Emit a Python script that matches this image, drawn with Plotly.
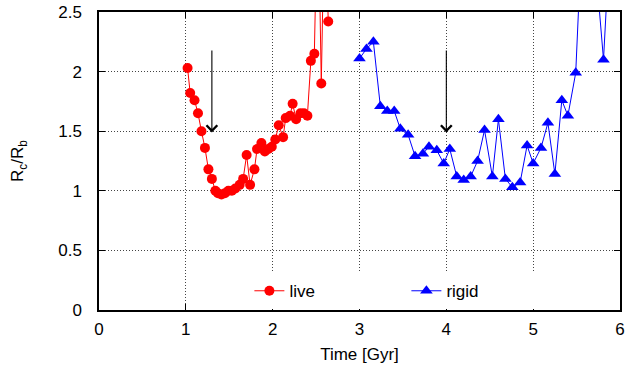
import plotly.graph_objects as go

# ---- data ----
live_time = [1.02, 1.05, 1.10, 1.14, 1.18, 1.22, 1.26, 1.30, 1.34, 1.37, 1.41, 1.45,
             1.49, 1.53, 1.57, 1.62, 1.66, 1.70, 1.74, 1.79, 1.82, 1.87, 1.91, 1.95,
             1.99, 2.03, 2.07, 2.12, 2.15, 2.20, 2.23, 2.27, 2.32, 2.36, 2.40, 2.44,
             2.48, 2.52, 2.56, 2.60, 2.64]
live_ratio = [2.03, 1.82, 1.76, 1.65, 1.50, 1.36, 1.18, 1.10, 1.00, 0.98, 0.97, 0.98,
              1.00, 1.00, 1.02, 1.05, 1.10, 1.30, 1.05, 1.18, 1.35, 1.40, 1.33, 1.35,
              1.37, 1.43, 1.55, 1.45, 1.61, 1.63, 1.73, 1.60, 1.65, 1.65, 1.63, 2.09,
              2.15, 3.60, 1.90, 3.50, 2.42]

rigid_time = [3.00, 3.08, 3.16, 3.24, 3.32, 3.40, 3.47, 3.56, 3.64, 3.73, 3.80, 3.89,
              3.97, 4.04, 4.12, 4.20, 4.28, 4.36, 4.44, 4.53, 4.60, 4.68, 4.76, 4.85,
              4.93, 5.00, 5.09, 5.17, 5.25, 5.33, 5.40, 5.49, 5.57, 5.65, 5.73, 5.81,
              5.89]
rigid_ratio = [2.11, 2.19, 2.25, 1.71, 1.67, 1.67, 1.52, 1.47, 1.29, 1.31, 1.37, 1.34,
               1.23, 1.35, 1.12, 1.09, 1.12, 1.25, 1.51, 1.12, 1.60, 1.10, 1.03, 1.07,
               1.38, 1.23, 1.36, 1.57, 1.14, 1.76, 1.63, 1.99, 3.30, 3.50, 2.80, 2.10,
               3.20]

# arrows marking events: (time, tail value, head value)
arrow_time = [1.30, 4.00]
arrow_tail = [2.19, 2.19]
arrow_head = [1.49, 1.49]

x_ticks = [0, 1, 2, 3, 4, 5, 6]
y_ticks = [0, 0.5, 1, 1.5, 2, 2.5]
y_tick_labels = ["0", "0.5", "1", "1.5", "2", "2.5"]

FONT = "Liberation Sans, Arial, sans-serif"
FS = 17

fig = go.Figure()
fig.add_trace(go.Scatter(
    x=live_time, y=live_ratio, mode="lines+markers", name="live",
    line=dict(color="#ff0000", width=1),
    marker=dict(symbol="circle", size=10, color="#ff0000"),
))
fig.add_trace(go.Scatter(
    x=rigid_time, y=rigid_ratio, mode="lines+markers", name="rigid",
    line=dict(color="#0000ff", width=1),
    marker=dict(symbol="triangle-up", size=11, color="#0000ff"),
))

for t, tail, head in zip(arrow_time, arrow_tail, arrow_head):
    fig.add_annotation(
        x=t, y=head, ax=t, ay=tail, xref="x", yref="y", axref="x", ayref="y",
        showarrow=True, arrowhead=4, arrowsize=1.9, arrowwidth=1.1,
        arrowcolor="black", text="",
    )

axis_common = dict(
    showline=True, linecolor="black", linewidth=1.5, mirror="ticks",
    ticks="inside", ticklen=6, tickwidth=1.2, tickcolor="black",
    showgrid=True, gridcolor="#444444", griddash="1px,2px", gridwidth=1,
    zeroline=False, automargin=False,
    tickfont=dict(family=FONT, size=FS, color="black"),
)

fig.update_xaxes(
    range=[0, 6], tickvals=x_ticks, ticklabelstandoff=3,
    title=dict(text="Time [Gyr]", font=dict(family=FONT, size=FS, color="black"),
               standoff=10),
    **axis_common,
)
fig.update_yaxes(
    range=[0, 2.5], tickvals=y_ticks, ticktext=y_tick_labels, ticklabelstandoff=12,
    title=dict(text="R<sub>c</sub>/R<sub>b</sub>",
               font=dict(family=FONT, size=FS, color="black"), standoff=30),
    **axis_common,
)

fig.update_layout(
    width=636, height=370,
    margin=dict(l=99, r=16, t=12, b=60, autoexpand=False),
    paper_bgcolor="white", plot_bgcolor="white",
    font=dict(family=FONT, size=FS, color="black"),
    legend=dict(
        orientation="h", x=0.59, xanchor="center", y=0.063, yanchor="middle",
        bgcolor="white", borderwidth=0, font=dict(family=FONT, size=FS),
        tracegroupgap=0, entrywidth=112,
    ),
)

fig.write_html("out.html", config={"displayModeBar": False},
               post_script="document.body.style.margin='0';")
